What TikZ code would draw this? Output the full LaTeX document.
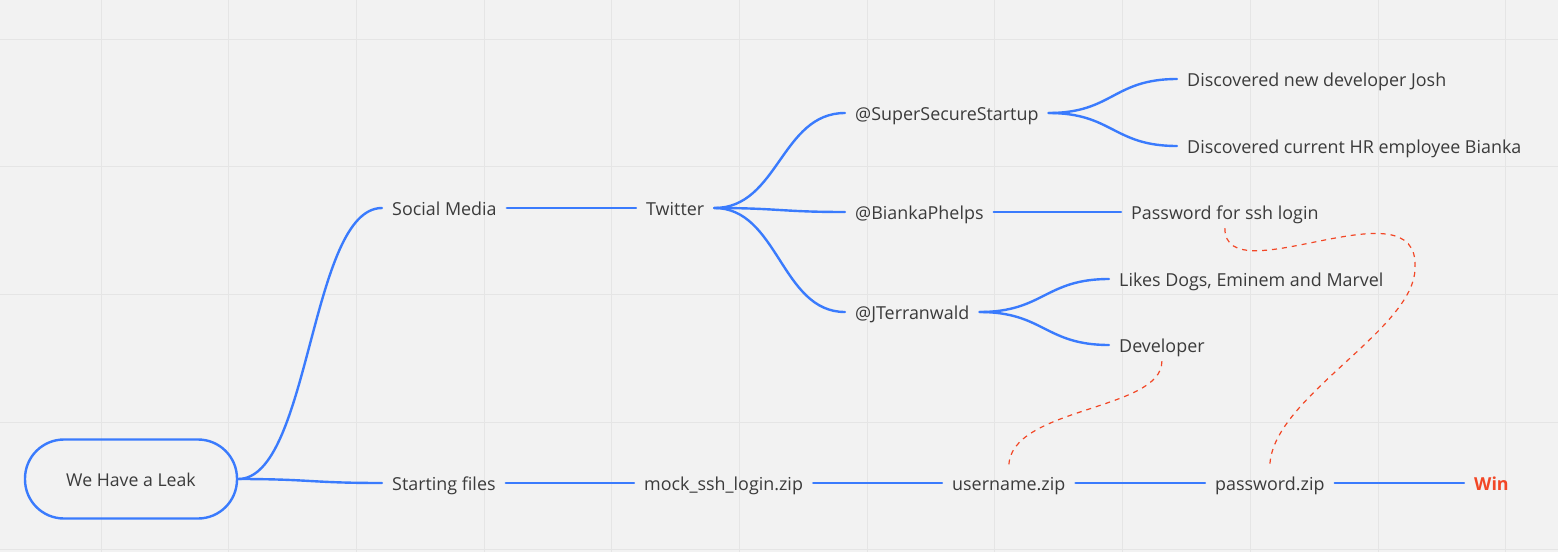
\documentclass[tikz,border=0pt]{standalone}
\usepackage{fontspec}
\setmainfont{Open Sans}
\definecolor{azul}{HTML}{3A7BFD}
\definecolor{rojo}{HTML}{F24726}
\definecolor{texto}{HTML}{3B3B3B}
\definecolor{fondo}{HTML}{F2F2F2}
\definecolor{rejilla}{HTML}{E5E5E5}

\begin{document}
\begin{tikzpicture}[x=1pt, y=-1pt,
		item/.style={anchor=west, text=texto, inner xsep=10pt, inner ysep=0pt,
			text height=18pt, text depth=4pt, font=\fontsize{17.9}{20}\selectfont},
		raiz/.style={draw=azul, line width=2.4pt, rounded corners=39pt, text=texto,
			minimum width=212pt, minimum height=79pt, text height=18pt, text depth=4pt,
			font=\fontsize{17.7}{20}\selectfont},
		rama/.style={azul, line width=2.4pt, line cap=round},
		pista/.style={rojo, line width=1.2pt, dash pattern=on 5pt off 5pt}]
		% Fondo
		\fill[fondo] (0,0) rectangle (1558,552);
		\useasboundingbox (0,0) rectangle (1558,552);
		\foreach \i in {0,...,11}{
			\draw[rejilla, line width=1pt] ({101+127.7*\i},0) -- ++(0,552);}
		\foreach \i in {0,...,4}{
			\draw[rejilla, line width=1pt] (0,{39+127.7*\i}) -- ++(1558,0);}
		
		% Nodos
		\node[raiz] (leak) at (131,479) {We Have a Leak};
		\node[item] (social) at (382,208) {Social Media};
		\node[item] (twitter) at (636,208) {Twitter};
		\node[item] (super) at (845,113) {@SuperSecureStartup};
		\node[item] (bianka) at (845,212) {@BiankaPhelps};
		\node[item] (jterr) at (845,312) {@JTerranwald};
		\node[item] (josh) at (1177,79) {Discovered new developer Josh};
		\node[item] (hr) at (1177,146) {Discovered current HR employee Bianka};
		\node[item] (sshpass) at (1121,212) {Password for ssh login};
		\node[item] (likes) at (1109,279) {Likes Dogs, Eminem and Marvel};
		\node[item] (dev) at (1109,345) {Developer};
		\node[item] (start) at (382,483) {Starting files};
		\node[item] (mock) at (634,483) {mock\_ssh\_login.zip};
		\node[item] (user) at (942,483) {username.zip};
		\node[item] (pwzip) at (1205,483) {password.zip};
		\node[item, text=rojo, font=\fontsize{17.9}{20}\selectfont\bfseries] (win) at (1464,483) {Win};
		
		% Ramas
		\draw[rama] (leak.east) .. controls +(72,0) and +(-72,0) .. (social.west);
		\draw[rama] (leak.east) .. controls +(72,0) and +(-72,0) .. (start.west);
		\draw[rama] (social.east) -- (twitter.west);
		\draw[rama] (twitter.east) .. controls +(64,0) and +(-64,0) .. (super.west);
		\draw[rama] (twitter.east) .. controls +(64,0) and +(-64,0) .. (bianka.west);
		\draw[rama] (twitter.east) .. controls +(64,0) and +(-64,0) .. (jterr.west);
		\draw[rama] (super.east) .. controls +(64,0) and +(-64,0) .. (josh.west);
		\draw[rama] (super.east) .. controls +(64,0) and +(-64,0) .. (hr.west);
		\draw[rama] (bianka.east) -- (sshpass.west);
		\draw[rama] (jterr.east) .. controls +(64,0) and +(-64,0) .. (likes.west);
		\draw[rama] (jterr.east) .. controls +(64,0) and +(-64,0) .. (dev.west);
		\draw[rama] (start.east) -- (mock.west);
		\draw[rama] (mock.east) -- (user.west);
		\draw[rama] (user.east) -- (pwzip.west);
		\draw[rama] (pwzip.east) -- (win.west);
		
		% Pistas
		\coordinate (giro) at (1415,268);
		\draw[pista] ([yshift=-5pt]dev.south) .. controls +(0,50) and +(0,-60) .. ([yshift=5pt]user.north);
		\draw[pista] ([yshift=-5pt]sshpass.south) .. controls +(0,68) and +(5,-88) .. (giro)
			.. controls +(0,62) and +(0,-68) .. ([yshift=5pt]pwzip.north);
	\end{tikzpicture}
\end{document}
